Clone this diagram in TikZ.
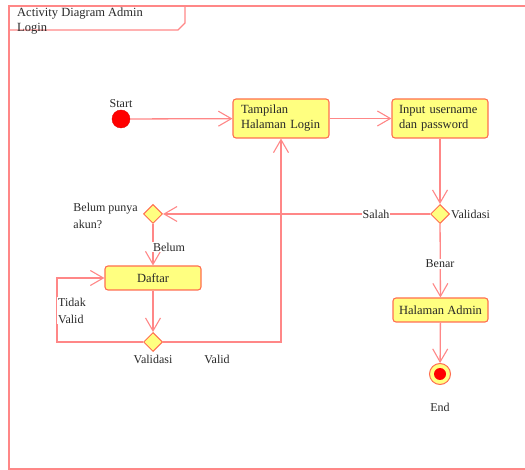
\documentclass[tikz,border=0pt]{standalone}
\usepackage{fontspec}
\setmainfont{Liberation Serif}
\usetikzlibrary{arrows.meta,shapes.geometric}
\definecolor{flow}{RGB}{255,135,135}
\definecolor{edge}{RGB}{255,110,80}
\definecolor{actfill}{RGB}{255,255,128}
\definecolor{txt}{RGB}{40,40,40}
\tikzset{
  flowline/.style={draw=flow, line width=1.3pt},
  arr/.style={flowline, -{Straight Barb[length=13pt,width=15pt,line width=1.1pt]}},
  activity/.style={draw=edge, fill=actfill, line width=1.1pt, rounded corners=3pt,
    minimum height=#1, font=\fontsize{12.5}{15}\selectfont, text=txt},
  activity/.default=24pt,
  decision/.style={diamond, draw=edge, fill=actfill, line width=1pt,
    minimum size=19pt, inner sep=0pt},
  lbl/.style={font=\fontsize{12}{17}\selectfont, text=txt, inner sep=1pt},
  lblbg/.style={lbl, fill=white}
}
\begin{document}
\begin{tikzpicture}[x=1pt,y=-1pt]
  \useasboundingbox (0,0) rectangle (525,470);
  % frame and title tab
  \draw[flowline] (535,6) -- (9,6) -- (9,469) -- (535,469);
  \draw[flowline] (9,30) -- (178,30) -- (185,23) -- (185,6);
  \node[lbl, anchor=north west, align=left, font=\fontsize{12.5}{15.5}\selectfont] (title) at (16,6.5)
    {Activity Diagram Admin\\Login};

  % nodes
  \node[circle, fill=red, draw=red!90!black, minimum size=18pt, inner sep=0pt] (start) at (121,119) {};
  \node[lbl] (startlbl) at (121,103.5) {Start};

  \node[activity=39pt, text width=80pt, inner xsep=8pt, align=left] (tampil) at (281,118.5)
    {Tampilan\\Halaman Login};
  \node[activity=39pt, text width=82pt, inner xsep=7pt, align=left] (input) at (440,118.5)
    {Input username\\dan password};

  \node[decision] (v1) at (440,214) {};
  \node[lbl, anchor=west] (v1lbl) at (450,214) {Validasi};

  \node[decision] (akun) at (153,214) {};
  \node[lbl, anchor=east, align=left] (akunlbl) at (139,216) {Belum punya\\akun?};

  \node[activity, minimum width=96pt] (daftar) at (153,278) {Daftar};

  \node[decision] (v2) at (153,342) {};
  \node[lbl] (v2lbl) at (153,359) {Validasi};
  \node[lbl] (validlbl) at (217,359) {Valid};

  \node[activity, minimum width=95pt] (admin) at (440.5,310) {Halaman Admin};

  \node[circle, draw=edge, fill=actfill, line width=1pt, minimum size=21pt, inner sep=0pt] (end) at (440,374) {};
  \node[circle, fill=red, minimum size=12pt, inner sep=0pt] (endcore) at (end) {};
  \node[lbl] (endlbl) at (440,407) {End};

  % bend points
  \coordinate (loopbl) at (57,342);

  % connectors
  \draw[arr] (start) -- (tampil);
  \draw[arr] (tampil) -- (input);
  \draw[arr] (input) -- (v1);
  \draw[arr] (v1) -- (akun);
  \draw[arr] (akun) -- (daftar);
  \draw[arr] (daftar) -- (v2);
  \draw[arr] (v2.west) -- (loopbl) |- (daftar.west);
  \draw[arr] (v2.east) -| (tampil.south);
  \draw[arr] (v1) -- (admin);
  \draw[arr] (admin) -- (end);

  % connector labels
  \node[lblbg] (salah) at (376,214) {Salah};
  \node[lblbg] (belum) at (169,247) {Belum};
  \node[lblbg] (benar) at (440,264) {Benar};
  \node[lblbg, anchor=north west, align=left] (tidak) at (57,296.5) {Tidak\\Valid};
\end{tikzpicture}
\end{document}
